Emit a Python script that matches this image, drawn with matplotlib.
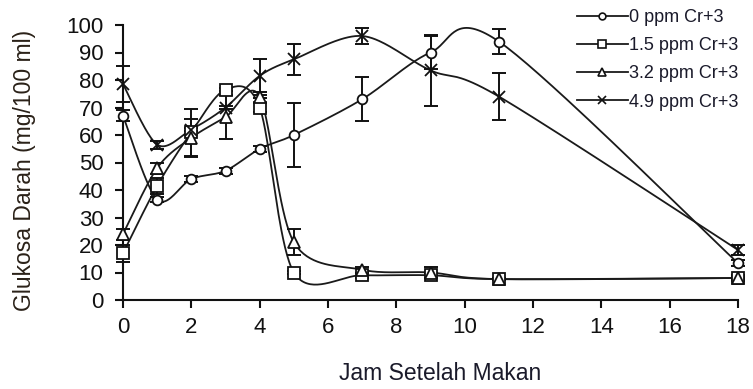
import numpy as np
import matplotlib
matplotlib.use("Agg")
import matplotlib.pyplot as plt
from matplotlib.lines import Line2D

plt.rcParams['font.family'] = ['Liberation Sans', 'DejaVu Sans']

# jam setelah makan
jam = [0, 1, 2, 3, 4, 5, 7, 9, 11, 18]

g_0 = [67, 36.5, 44, 47, 55, 60, 73, 90, 94, 13.4]
e_0 = [2, 0.8, 1, 1, 1, 11.5, 8, 6, 4.7, 1]
g_15 = [17, 41.5, 61, 76.5, 70, 10, 9, 9, 7.6, 8]
e_15 = [3, 3, 8.5, 0.5, 1.5, 0.5, 1, 1, 0.5, 1]
g_32 = [24, 48, 59, 66.5, 74, 21, 11, 10, 7.6, 8]
e_32 = [2, 2, 7, 8, 0.5, 4.7, 1, 2, 0.5, 0.5]
g_49 = [78.5, 56.5, 62, 70, 81.5, 87.5, 96, 83.5, 74, 18.2]
e_49 = [6.5, 1.5, 0.5, 0.5, 6, 5.6, 3, 13, 8.5, 1.8]

labels = ['0 ppm Cr+3', '1.5 ppm Cr+3', '3.2 ppm Cr+3', '4.9 ppm Cr+3']


def halus(x, y, n=40, k=6.5):
    # kurva mulus ala excel (bezier catmull-rom)
    p = np.column_stack([x, y]).astype(float)
    p = np.vstack([p[0], p, p[-1]])
    xs, ys = [], []
    for i in range(1, len(p) - 2):
        p0, p1, p2, p3 = p[i - 1], p[i], p[i + 1], p[i + 2]
        c1 = p1 + (p2 - p0) / k
        c2 = p2 - (p3 - p1) / k
        t = np.linspace(0, 1, n)[:, None]
        b = (1 - t) ** 3 * p1 + 3 * (1 - t) ** 2 * t * c1 + 3 * (1 - t) * t ** 2 * c2 + t ** 3 * p2
        xs.extend(b[:, 0])
        ys.extend(b[:, 1])
    return xs, ys


fig = plt.figure(figsize=(7.53, 3.89), dpi=100)
ax = fig.add_axes([123 / 753, 1 - 300 / 389, (738 - 123) / 753, 275 / 389])

seri = [(g_0, e_0, 'o', 7, 'white'),
        (g_15, e_15, 's', 9, 'white'),
        (g_32, e_32, '^', 8, 'white'),
        (g_49, e_49, 'x', 8, 'black')]

handles = []
for (g, e, m, ms, fc), lab in zip(seri, labels):
    xs, ys = halus(jam, g)
    ax.plot(xs, ys, color='#1a1a1a', lw=1.3, zorder=2, clip_on=False)
    ax.errorbar(jam, g, yerr=e, fmt='none', ecolor='#111111', elinewidth=1.4,
                capsize=5, capthick=1.4, zorder=3, clip_on=False)
    ax.plot(jam, g, ls='none', marker=m, ms=ms, mfc=fc, mec='#111111',
            mew=1.3, zorder=4, clip_on=False)
    handles.append(Line2D([], [], color='#1a1a1a', lw=1.3, marker=m,
                          ms=ms * 0.7, mfc=fc, mec='#111111', mew=1.2))

ax.set_xlim(0, 18)
ax.set_ylim(0, 100)
ax.set_xticks(range(0, 19, 2))
ax.set_yticks(range(0, 101, 10))
for s in ['top', 'right']:
    ax.spines[s].set_visible(False)
for s in ['left', 'bottom']:
    ax.spines[s].set_linewidth(1.5)
    ax.spines[s].set_color('#111111')
ax.tick_params(axis='both', direction='out', length=6, width=1.5,
               color='#111111', labelsize=16, labelcolor='#111111')
ax.tick_params(axis='y', pad=8)
ax.tick_params(axis='x', pad=6)

fig.text(25 / 753, 1 - 170 / 389, 'Glukosa Darah (mg/100 ml)', rotation=90,
         ha='center', va='center', fontsize=16.5, color='#2a2118')
fig.text(440 / 753, 1 - 374 / 389, 'Jam Setelah Makan', ha='center',
         va='center', fontsize=16.5, color='#1a1a2a')

fig.legend(handles, labels, loc='upper left', bbox_to_anchor=(577 / 753, 1 - 9 / 389),
           frameon=False, fontsize=13, handlelength=2.8, handletextpad=0.1,
           labelspacing=0.62, borderpad=0, borderaxespad=0, labelcolor='#1a1a2a')

fig.savefig('out.png', dpi=100)
